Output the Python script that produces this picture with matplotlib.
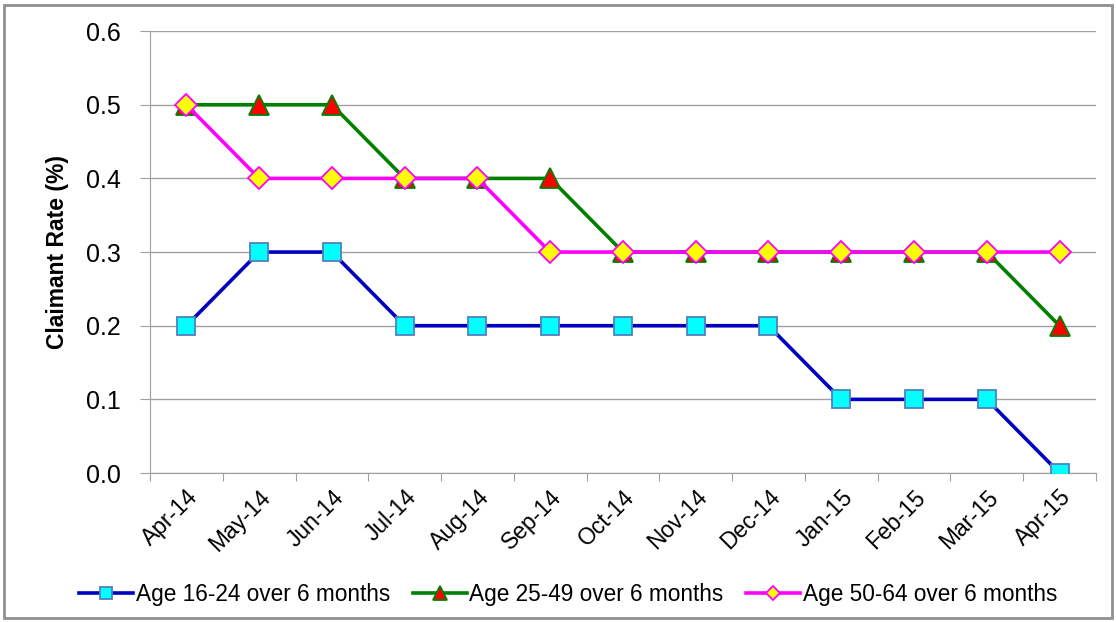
import matplotlib
matplotlib.use("Agg")
import matplotlib.pyplot as plt
from matplotlib.patches import Rectangle

months = ["Apr-14", "May-14", "Jun-14", "Jul-14", "Aug-14", "Sep-14", "Oct-14",
          "Nov-14", "Dec-14", "Jan-15", "Feb-15", "Mar-15", "Apr-15"]
age_16_24 = [0.2, 0.3, 0.3, 0.2, 0.2, 0.2, 0.2, 0.2, 0.2, 0.1, 0.1, 0.1, 0.0]
age_25_49 = [0.5, 0.5, 0.5, 0.4, 0.4, 0.4, 0.3, 0.3, 0.3, 0.3, 0.3, 0.3, 0.2]
age_50_64 = [0.5, 0.4, 0.4, 0.4, 0.4, 0.3, 0.3, 0.3, 0.3, 0.3, 0.3, 0.3, 0.3]

plt.rcParams["font.family"] = ["Liberation Sans", "DejaVu Sans"]

fig = plt.figure(figsize=(11.16, 6.22), dpi=100)
ax = fig.add_axes([0.1344, 0.2395, 0.8476, 0.7105])

x = list(range(len(months)))
ax.plot(x, age_16_24, color="#0000C0", linewidth=2.6, marker="s", markersize=13,
        markerfacecolor="#00FFFF", markeredgecolor="#4F81BD", markeredgewidth=1.3,
        label="Age 16-24 over 6 months", zorder=3)
ax.plot(x, age_25_49, color="#008000", linewidth=2.6, marker="^", markersize=15,
        markerfacecolor="#FF0000", markeredgecolor="#008000", markeredgewidth=1.3,
        label="Age 25-49 over 6 months", zorder=4)
ax.plot(x, age_50_64, color="#FF00FF", linewidth=2.6, marker="D", markersize=11,
        markerfacecolor="#FFFF00", markeredgecolor="#FF00FF", markeredgewidth=1.3,
        label="Age 50-64 over 6 months", zorder=5)

ax.set_xlim(-0.5, len(months) - 0.5)
ax.set_ylim(0, 0.6)
ax.set_yticks([0.0, 0.1, 0.2, 0.3, 0.4, 0.5, 0.6])
ax.set_yticklabels([f"{v:.1f}" for v in ax.get_yticks()], fontsize=18)
ax.yaxis.grid(True, color="#A0A0A0", linewidth=1)
ax.set_axisbelow(True)

# category boundaries get the tick marks, labels sit between them
ax.set_xticks([i - 0.5 for i in range(len(months) + 1)])
ax.set_xticklabels([])
ax.set_xticks(x, minor=True)
ax.set_xticklabels(months, minor=True, rotation=45, ha="right",
                   rotation_mode="anchor", fontsize=16.5)
ax.tick_params(axis="x", which="major", length=6, color="#A0A0A0", direction="out")
ax.tick_params(axis="x", which="minor", length=0, pad=9)
ax.tick_params(axis="y", length=7, color="#A0A0A0", pad=14)

for side in ("top", "right"):
    ax.spines[side].set_visible(False)
for side in ("left", "bottom"):
    ax.spines[side].set_color("#A0A0A0")

ax.set_ylabel("Claimant Rate (%)", fontsize=16.5, fontweight="bold", labelpad=12)

fig.legend(loc="center", bbox_to_anchor=(0.509, 0.045), ncol=3, frameon=False,
           fontsize=16.3, handlelength=2.4, columnspacing=1.0, handletextpad=0.1,
           markerscale=0.65)

fig.patches.append(Rectangle((0.004, 0.006), 0.992, 0.986, transform=fig.transFigure,
                             fill=False, edgecolor="#909090", linewidth=2))

fig.savefig("out.png", dpi=100)
